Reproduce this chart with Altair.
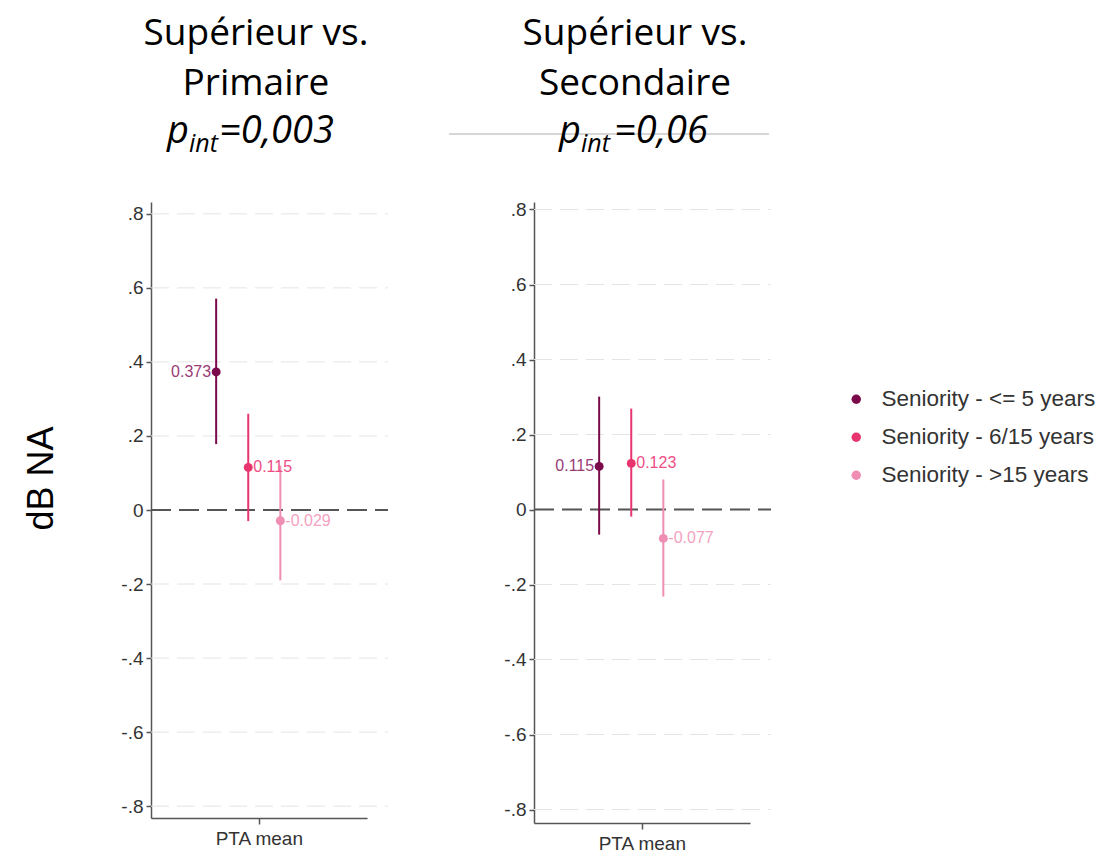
import altair as alt
import pandas as pd

# ---------------- data ----------------
series = ["Seniority - <= 5 years", "Seniority - 6/15 years", "Seniority - >15 years"]
slot = [1, 2, 3]

est_prim = [0.373, 0.115, -0.029]
lo_prim = [0.178, -0.030, -0.190]
hi_prim = [0.571, 0.260, 0.120]
lab_prim = ["0.373", "0.115", "-0.029"]

est_sec = [0.115, 0.123, -0.077]
lo_sec = [-0.067, -0.019, -0.232]
hi_sec = [0.301, 0.269, 0.080]
lab_sec = ["0.115", "0.123", "-0.077"]

y_ticks = [-0.8, -0.6, -0.4, -0.2, 0, 0.2, 0.4, 0.6, 0.8]
x_label = "PTA mean"
title_prim = ["Supérieur vs.", "Primaire"]
title_sec = ["Supérieur vs.", "Secondaire"]
p_prim = "=0,003"
p_sec = "=0,06"
y_title = "dB NA"

point_colors = ["#7a0a4a", "#e8356f", "#f08db2"]
text_colors = ["#9a3b77", "#ee4d86", "#f4a2c1"]

SANS = "Liberation Sans"
TITLE_FONT = "Open Sans"

LEGEND = alt.Legend(title=None, orient="none", legendX=694, legendY=186, padding=0,
                    symbolType="circle", symbolSize=90, symbolStrokeWidth=0,
                    labelFont=SANS, labelFontSize=22.5, labelColor="#333333",
                    labelLimit=0, rowPadding=15, labelOffset=14)


def panel(est, lo, hi, labels, title, pval, height, ydom, show_ytitle, p_right, eq_left,
          extra_rule, title_dx):
    df = pd.DataFrame({
        "series": series, "slot": slot, "est": est, "lo": lo, "hi": hi,
        "label": labels, "tcolor": text_colors,
    })
    grid_df = pd.DataFrame({"v": [t for t in y_ticks if t != 0]})
    zero_df = pd.DataFrame({"v": [0.0]})

    yscale = alt.Scale(domain=ydom, nice=False, zero=False)
    xscale = alt.Scale(domain=[-1.03, 5.7], nice=False, zero=False)
    color_scale = alt.Scale(domain=series, range=point_colors)

    xaxis = alt.Axis(values=[2.33], labelExpr=f"'{x_label}'", title=None,
                     grid=False, tickSize=6, labelPadding=5, labelFontSize=19)
    yaxis = alt.Axis(values=y_ticks, grid=False, tickSize=5, labelPadding=3, labelFontSize=19,
                     labelExpr="datum.value == 0 ? '0' : replace(replace(format(datum.value, '.1f'), '\u2212', '-'), '0.', '.')",
                     title=y_title if show_ytitle else "", titlePadding=60, titleY=276,
                     titleFontSize=36)

    def X(f):
        return alt.X(f, scale=xscale, axis=xaxis, title=None)

    def Y(f):
        return alt.Y(f, scale=yscale, axis=yaxis)

    color = alt.Color("series:N", scale=color_scale, legend=LEGEND)

    base = alt.Chart(df)

    bars = base.mark_rule(strokeWidth=2).encode(
        x=X("slot:Q"), y=Y("lo:Q"), y2="hi:Q", color=color)

    grid = alt.Chart(grid_df).mark_rule(color="#e4e4e4", strokeWidth=1, strokeDash=[18, 8]).encode(
        y=Y("v:Q"), x=alt.value(0), x2=alt.value(237))
    zero = alt.Chart(zero_df).mark_rule(color="#555555", strokeWidth=2, strokeDash=[20, 8]).encode(
        y=Y("v:Q"), x=alt.value(0), x2=alt.value(237))

    pts = base.mark_circle(size=80, opacity=1).encode(
        x=X("slot:Q"), y=Y("est:Q"), color=color)

    lab_left = base.transform_filter(alt.datum.slot == 1).mark_text(
        align="right", baseline="middle", dx=-5, font=SANS, fontSize=16).encode(
        x=X("slot:Q"), y=Y("est:Q"), text="label:N",
        color=alt.Color("tcolor:N", scale=None))
    lab_right = base.transform_filter(alt.datum.slot > 1).mark_text(
        align="left", baseline="middle", dx=5, font=SANS, fontSize=16).encode(
        x=X("slot:Q"), y=Y("est:Q"), text="label:N",
        color=alt.Color("tcolor:N", scale=None))

    tdf = pd.DataFrame({"a": [0]})
    p_main = alt.Chart(tdf).mark_text(
        text="p", align="right", baseline="alphabetic", font=TITLE_FONT, fontSize=38,
        fontStyle="italic", color="black").encode(x=alt.value(p_right), y=alt.value(-59))
    p_sub = alt.Chart(tdf).mark_text(
        text="int", align="left", baseline="alphabetic", font=TITLE_FONT, fontSize=25,
        fontStyle="italic", color="black").encode(x=alt.value(p_right), y=alt.value(-50))
    p_val = alt.Chart(tdf).mark_text(
        text=pval, align="left", baseline="alphabetic", font=TITLE_FONT, fontSize=38,
        fontStyle="italic", color="black").encode(x=alt.value(eq_left), y=alt.value(-59))

    layers = [grid, zero, bars, pts, lab_left, lab_right, p_main, p_sub, p_val]
    if extra_rule:
        line = alt.Chart(tdf).mark_rule(color="#c8c8c8", strokeWidth=1.5).encode(
            x=alt.value(-85), x2=alt.value(235), y=alt.value(-68))
        layers.insert(0, line)

    return alt.layer(*layers).properties(
        width=216, height=height,
        title=alt.Title(text=title, font=TITLE_FONT, fontSize=37, fontWeight="normal",
                        lineHeight=50, anchor="middle", frame="group", dx=title_dx,
                        offset=10, color="black"),
    )


p1 = panel(est_prim, lo_prim, hi_prim, lab_prim, title_prim, p_prim, 616, [-0.832, 0.832],
           True, 38, 68, False, -3)
p2 = panel(est_sec, lo_sec, hi_sec, lab_sec, title_sec, p_sec, 621, [-0.836, 0.82],
           False, 47, 80, True, -7)

chart = alt.hconcat(p1, p2, spacing=59).resolve_scale(
    color="shared", y="independent", x="independent"
).properties(
    padding={"left": 23, "top": 15, "right": 0, "bottom": 0}
).configure_view(stroke=None).configure_axis(
    domainColor="#555555", domainWidth=1.5, tickColor="#555555", tickWidth=1.5,
    labelColor="#333333", labelFont=SANS, labelFontSize=19,
    titleFont=SANS, titleFontSize=36, titleFontWeight="normal", titleColor="black",
)

chart.save("out.html", embed_options={"renderer": "svg", "actions": False})
